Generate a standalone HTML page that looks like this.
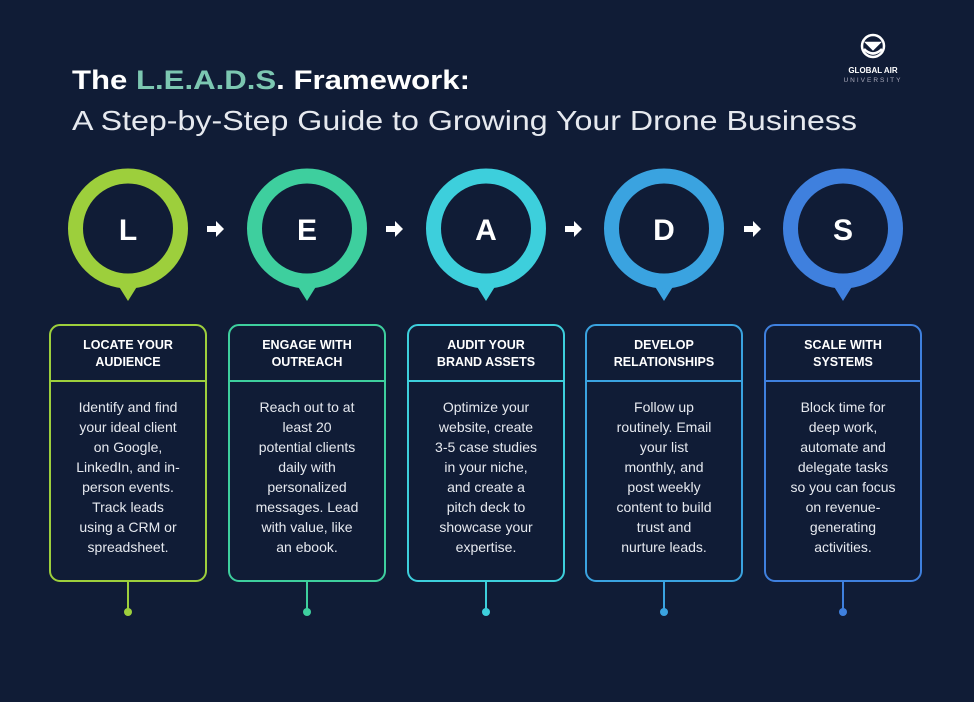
<!DOCTYPE html>
<html><head><meta charset="utf-8"><style>
html,body{margin:0;padding:0;background:#101c36;}
svg{display:block}
</style></head><body>
<svg width="974" height="702" viewBox="0 0 974 702" xmlns="http://www.w3.org/2000/svg" font-family="Liberation Sans, sans-serif">
<rect width="974" height="702" fill="#101c36"/>
<text x="72" y="89" font-size="27" font-weight="bold" fill="#fff" textLength="398" lengthAdjust="spacingAndGlyphs">The <tspan fill="#7cc7b1">L.E.A.D.S</tspan>. Framework:</text>
<text x="72" y="130" font-size="28" fill="#e6e9ef" textLength="785" lengthAdjust="spacingAndGlyphs">A Step-by-Step Guide to Growing Your Drone Business</text>
<g transform="translate(873,46)" fill="none" stroke="#fff" stroke-width="2.5">
<circle r="11"/>
<path d="M-9 3 Q0 12 9 3" />
<path d="M-6 -3 L6 -3 L0 3 Z" fill="#fff"/>
</g>
<text x="873" y="73" font-size="8" font-weight="bold" fill="#fff" text-anchor="middle">GLOBAL AIR</text>
<text x="873" y="82" font-size="6.5" fill="#aab" text-anchor="middle" letter-spacing="2">UNIVERSITY</text>
<g fill="#fff">
<path d="M207 226 h9 v-5 l8 8 l-8 8 v-5 h-9 z"/>
<path d="M386 226 h9 v-5 l8 8 l-8 8 v-5 h-9 z"/>
<path d="M565 226 h9 v-5 l8 8 l-8 8 v-5 h-9 z"/>
<path d="M744 226 h9 v-5 l8 8 l-8 8 v-5 h-9 z"/>
</g>
<g font-size="13" fill="#fff">
<g transform="translate(128,0)">
<path d="M-10 285 L0 301 L10 285 Z" fill="#9dcf3c"/>
<circle cx="0" cy="228.5" r="52.5" fill="none" stroke="#9dcf3c" stroke-width="15"/>
<text x="0" y="240" font-size="30" font-weight="bold" text-anchor="middle">L</text>
<rect x="-78" y="325" width="156" height="256" rx="10" fill="none" stroke="#9dcf3c" stroke-width="2"/>
<line x1="-78" y1="381" x2="78" y2="381" stroke="#9dcf3c" stroke-width="2"/>
<line x1="0" y1="582" x2="0" y2="611" stroke="#9dcf3c" stroke-width="2"/>
<circle cx="0" cy="612" r="4" fill="#9dcf3c"/>
<text text-anchor="middle" font-size="12.5" font-weight="bold"><tspan x="0" y="349">LOCATE YOUR</tspan><tspan x="0" y="366">AUDIENCE</tspan></text>
<text text-anchor="middle" font-size="14" fill="#e6e9ef"><tspan x="0" y="412">Identify and find</tspan><tspan x="0" y="432">your ideal client</tspan><tspan x="0" y="452">on Google,</tspan><tspan x="0" y="472">LinkedIn, and in-</tspan><tspan x="0" y="492">person events.</tspan><tspan x="0" y="512">Track leads</tspan><tspan x="0" y="532">using a CRM or</tspan><tspan x="0" y="552">spreadsheet.</tspan></text>
</g>
<g transform="translate(307,0)">
<path d="M-10 285 L0 301 L10 285 Z" fill="#3ecf9e"/>
<circle cx="0" cy="228.5" r="52.5" fill="none" stroke="#3ecf9e" stroke-width="15"/>
<text x="0" y="240" font-size="30" font-weight="bold" text-anchor="middle">E</text>
<rect x="-78" y="325" width="156" height="256" rx="10" fill="none" stroke="#3ecf9e" stroke-width="2"/>
<line x1="-78" y1="381" x2="78" y2="381" stroke="#3ecf9e" stroke-width="2"/>
<line x1="0" y1="582" x2="0" y2="611" stroke="#3ecf9e" stroke-width="2"/>
<circle cx="0" cy="612" r="4" fill="#3ecf9e"/>
<text text-anchor="middle" font-size="12.5" font-weight="bold"><tspan x="0" y="349">ENGAGE WITH</tspan><tspan x="0" y="366">OUTREACH</tspan></text>
<text text-anchor="middle" font-size="14" fill="#e6e9ef"><tspan x="0" y="412">Reach out to at</tspan><tspan x="0" y="432">least 20</tspan><tspan x="0" y="452">potential clients</tspan><tspan x="0" y="472">daily with</tspan><tspan x="0" y="492">personalized</tspan><tspan x="0" y="512">messages. Lead</tspan><tspan x="0" y="532">with value, like</tspan><tspan x="0" y="552">an ebook.</tspan></text>
</g>
<g transform="translate(486,0)">
<path d="M-10 285 L0 301 L10 285 Z" fill="#3dcfdc"/>
<circle cx="0" cy="228.5" r="52.5" fill="none" stroke="#3dcfdc" stroke-width="15"/>
<text x="0" y="240" font-size="30" font-weight="bold" text-anchor="middle">A</text>
<rect x="-78" y="325" width="156" height="256" rx="10" fill="none" stroke="#3dcfdc" stroke-width="2"/>
<line x1="-78" y1="381" x2="78" y2="381" stroke="#3dcfdc" stroke-width="2"/>
<line x1="0" y1="582" x2="0" y2="611" stroke="#3dcfdc" stroke-width="2"/>
<circle cx="0" cy="612" r="4" fill="#3dcfdc"/>
<text text-anchor="middle" font-size="12.5" font-weight="bold"><tspan x="0" y="349">AUDIT YOUR</tspan><tspan x="0" y="366">BRAND ASSETS</tspan></text>
<text text-anchor="middle" font-size="14" fill="#e6e9ef"><tspan x="0" y="412">Optimize your</tspan><tspan x="0" y="432">website, create</tspan><tspan x="0" y="452">3-5 case studies</tspan><tspan x="0" y="472">in your niche,</tspan><tspan x="0" y="492">and create a</tspan><tspan x="0" y="512">pitch deck to</tspan><tspan x="0" y="532">showcase your</tspan><tspan x="0" y="552">expertise.</tspan></text>
</g>
<g transform="translate(664,0)">
<path d="M-10 285 L0 301 L10 285 Z" fill="#3aa3e0"/>
<circle cx="0" cy="228.5" r="52.5" fill="none" stroke="#3aa3e0" stroke-width="15"/>
<text x="0" y="240" font-size="30" font-weight="bold" text-anchor="middle">D</text>
<rect x="-78" y="325" width="156" height="256" rx="10" fill="none" stroke="#3aa3e0" stroke-width="2"/>
<line x1="-78" y1="381" x2="78" y2="381" stroke="#3aa3e0" stroke-width="2"/>
<line x1="0" y1="582" x2="0" y2="611" stroke="#3aa3e0" stroke-width="2"/>
<circle cx="0" cy="612" r="4" fill="#3aa3e0"/>
<text text-anchor="middle" font-size="12.5" font-weight="bold"><tspan x="0" y="349">DEVELOP</tspan><tspan x="0" y="366">RELATIONSHIPS</tspan></text>
<text text-anchor="middle" font-size="14" fill="#e6e9ef"><tspan x="0" y="412">Follow up</tspan><tspan x="0" y="432">routinely. Email</tspan><tspan x="0" y="452">your list</tspan><tspan x="0" y="472">monthly, and</tspan><tspan x="0" y="492">post weekly</tspan><tspan x="0" y="512">content to build</tspan><tspan x="0" y="532">trust and</tspan><tspan x="0" y="552">nurture leads.</tspan></text>
</g>
<g transform="translate(843,0)">
<path d="M-10 285 L0 301 L10 285 Z" fill="#3f80de"/>
<circle cx="0" cy="228.5" r="52.5" fill="none" stroke="#3f80de" stroke-width="15"/>
<text x="0" y="240" font-size="30" font-weight="bold" text-anchor="middle">S</text>
<rect x="-78" y="325" width="156" height="256" rx="10" fill="none" stroke="#3f80de" stroke-width="2"/>
<line x1="-78" y1="381" x2="78" y2="381" stroke="#3f80de" stroke-width="2"/>
<line x1="0" y1="582" x2="0" y2="611" stroke="#3f80de" stroke-width="2"/>
<circle cx="0" cy="612" r="4" fill="#3f80de"/>
<text text-anchor="middle" font-size="12.5" font-weight="bold"><tspan x="0" y="349">SCALE WITH</tspan><tspan x="0" y="366">SYSTEMS</tspan></text>
<text text-anchor="middle" font-size="14" fill="#e6e9ef"><tspan x="0" y="412">Block time for</tspan><tspan x="0" y="432">deep work,</tspan><tspan x="0" y="452">automate and</tspan><tspan x="0" y="472">delegate tasks</tspan><tspan x="0" y="492">so you can focus</tspan><tspan x="0" y="512">on revenue-</tspan><tspan x="0" y="532">generating</tspan><tspan x="0" y="552">activities.</tspan></text>
</g>
</g>
</svg>
</body></html>
